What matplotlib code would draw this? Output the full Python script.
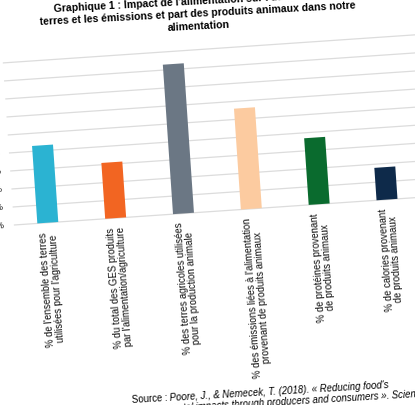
import math
import matplotlib
matplotlib.use('Agg')
import matplotlib.pyplot as plt
from matplotlib.transforms import Affine2D
from matplotlib import font_manager

# data
categories = [
    "% de l'ensemble des terres\nutilisées pour l'agriculture",
    "% du total des GES produits\npar l'alimentation/agriculture",
    "% des terres agricoles utilisées\npour la production animale",
    "% des émissions liées à l'alimentation\nprovenant de produits animaux",
    "% de protéines provenant\nde produits animaux",
    "% de calories provenant\nde produits animaux",
]
values = [43, 31, 83, 56, 37, 18]
colors = ['#2bb3d2', '#f26522', '#6b7784', '#fccba0', '#0a6b2e', '#0e2a4a']
yticks = [0, 10, 20, 30, 40, 50, 60, 70, 80, 90]

title = ("Graphique 1 : Impact de l'alimentation sur l'utilisation des\n"
         "terres et les émissions et part des produits animaux dans notre\n"
         "alimentation")
source_lbl = "Source : "
source_1 = "Poore, J., & Nemecek, T. (2018). « Reducing food's"
source_2 = "environmental impacts through producers and consumers ». Science, 360(6392), 987-992."

W, H = 415, 405
fig = plt.figure(figsize=(W / 100, H / 100), dpi=100, facecolor='white')

# the picture is a slightly tilted photo of the chart: draw upright, then rotate
piv_x, piv_y = 47.8, H - 222.7
step, per_pct = 68.0, 1.805
tilt = 3.9

ax = fig.add_axes([(piv_x - 0.5 * step) / W, piv_y / H, 6 * step / W, 90 * per_pct / H])
ax.set_xlim(-0.5, 5.5)
ax.set_ylim(0, 90)
ax.axis('off')

rot = Affine2D().rotate_deg_around(piv_x, piv_y, tilt)
tr = ax.transData + rot

x = list(range(len(values)))

ax.hlines(yticks, -0.5, 6.6, colors='#dcdcdc', linewidth=0.9, transform=tr, clip_on=False, zorder=1)
ax.bar(x, values, width=21 / step, color=colors, transform=tr, clip_on=False, zorder=2)

font = ['Liberation Sans', 'DejaVu Sans']
names = {f.name for f in font_manager.fontManager.ttflist}
if 'Liberation Sans Narrow' in names:
    lab_font, lab_size = ['Liberation Sans Narrow', 'DejaVu Sans'], 8.2
else:
    lab_font, lab_size = font, 6.9

for t in yticks:
    ax.text(-0.5 - 9 / step, t, f"{t}%", ha='right', va='center', fontsize=6.5,
            family=font, rotation=tilt, rotation_mode='anchor', transform=tr)

for i, lab in enumerate(categories):
    ax.text(i, -9 / per_pct, lab, ha='right', va='center', multialignment='center',
            fontsize=lab_size, family=lab_font, color='#111111', linespacing=1.0,
            rotation=90 + tilt, rotation_mode='anchor', transform=tr)

# title
fig.text(198 / W, 1 - 13.5 / H, title, ha='center', va='center', multialignment='center',
         fontsize=7.6, fontweight='bold', family=font, linespacing=1.3,
         rotation=3, rotation_mode='anchor')

# source (regular + italic on the same line)
s_ang = 3.4
s_size = 6.9
sx, sy = 131.7, H - 403
fig.text(sx / W, sy / H, source_lbl, ha='left', va='baseline', fontsize=s_size,
         family=font, rotation=s_ang, rotation_mode='anchor')
r = fig.canvas.get_renderer()
tmp = fig.text(0, 0, source_lbl, fontsize=s_size, family=font)
w0 = tmp.get_window_extent(r).width
tmp.remove()
ca, sa = math.cos(math.radians(s_ang)), math.sin(math.radians(s_ang))
fig.text((sx + w0 * ca) / W, (sy + w0 * sa) / H, source_1, ha='left', va='baseline',
         fontsize=s_size, family=font, style='italic', rotation=s_ang, rotation_mode='anchor')
lsp = 11.5
fig.text((sx + lsp * sa) / W, (sy - lsp * ca) / H, source_2, ha='left', va='baseline',
         fontsize=s_size, family=font, style='italic', rotation=s_ang, rotation_mode='anchor')

fig.savefig('out.png', dpi=100, facecolor='white')
